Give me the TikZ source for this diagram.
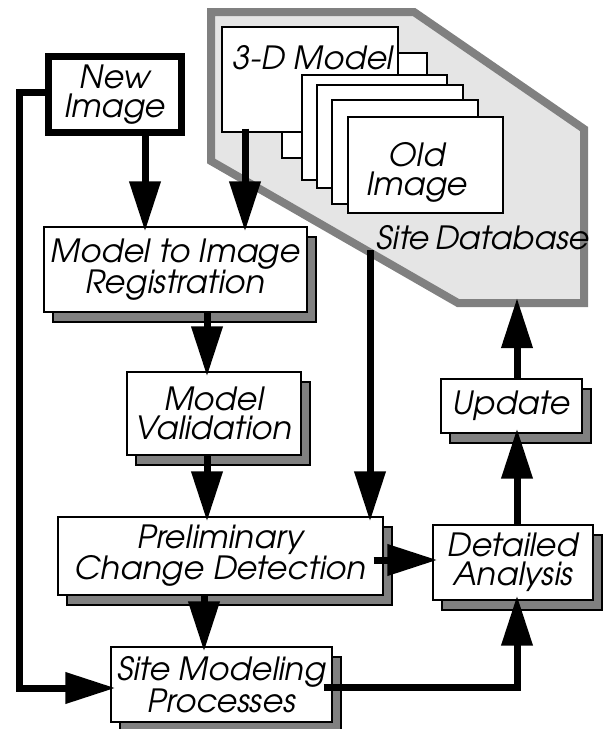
\documentclass[tikz,border=0pt]{standalone}
\usepackage{fontspec}
\newfontfamily\avantit{texgyreadventor-italic.otf}
\usepackage{tikz}
\usetikzlibrary{arrows.meta,positioning,shadows}

\begin{document}
\begin{tikzpicture}[x=1pt,y=-1pt,
	font=\avantit\fontsize{32}{29}\selectfont,
	box/.style={draw=black, line width=1.2pt, fill=white, align=center, inner sep=0pt,
		drop shadow={shadow xshift=9pt, shadow yshift=-10pt, fill=gray, draw=black, line width=1.2pt, opacity=1}},
	card/.style={draw=black, line width=1.2pt, fill=white, align=center, inner sep=0pt},
	arr/.style={-{Triangle[length=50pt,width=30pt]}, line width=7pt, shorten >=-5pt}
	]
	\useasboundingbox (0,0) rectangle (603,729);
	% site database
	\draw[draw=gray, line width=8pt, fill=gray!20] (211,12) -- (414,12) -- (584,129) -- (584,303) -- (458,303) -- (211,161) -- cycle;
	\node[card, minimum width=145pt, minimum height=105pt] (c2) at (354.5,105.5) {};
	\node[card, minimum width=176pt, minimum height=105pt] (model) at (310,79.5) {};
	\node[card, minimum width=145pt, minimum height=105pt] (c3) at (374.5,127.5) {};
	\node[card, minimum width=146pt, minimum height=103pt] (c4) at (390,136.5) {};
	\node[card, minimum width=146pt, minimum height=104pt] (c5) at (405,152) {};
	\node[card, minimum width=155pt, minimum height=96pt] (oldimg) at (425.5,165) {};
	\node (modeltxt) at (313,58) {3-D Model};
	\node[align=center] (oldtxt) at (417,172) {Old\\Image};
	\node (dbtxt) at (483,238) {Site\,Database};
	\coordinate (dbout) at (370,250);
	\coordinate (dbin) at (517,303);
	% process boxes
	\node[draw=black, line width=7pt, fill=white, align=center, inner sep=0pt, minimum width=133pt, minimum height=76pt] (newimg) at (115,94.5) {New\\Image};
	\node[box, minimum width=263pt, minimum height=85pt] (reg) at (175.5,269.5) {Model to Image\\Registration};
	\node[box, minimum width=174pt, minimum height=83pt] (valid) at (214,413.5) {Model\\Validation};
	\node[box, minimum width=325pt, minimum height=78pt] (prelim) at (220.5,556) {Preliminary\\Change Detection};
	\node[box, minimum width=160pt, minimum height=75pt] (detail) at (513,562.5) {Detailed\\Analysis};
	\node[box, minimum width=141pt, minimum height=54pt] (update) at (511.5,406) {Update};
	\node[box, minimum width=221pt, minimum height=75pt] (sitemod) at (221.5,684.5) {Site Modeling\\Processes};
	\coordinate (leftrail) at (19,0);
	% connectors
	\draw[arr] ([yshift=2.5pt]newimg.west) -- ([yshift=2.5pt]newimg.west -| leftrail) |- ([yshift=-3.5pt]sitemod.west);
	\draw[arr] ([xshift=30pt]newimg.south) -- ([xshift=-30.5pt]reg.north);
	\draw[arr] ([xshift=-65pt,yshift=4pt]model.south) -- ([xshift=69.5pt]reg.north);
	\draw[arr] ([xshift=31.5pt]reg.south) -- ([xshift=-7pt]valid.north);
	\draw[arr] ([xshift=-7pt]valid.south) -- ([xshift=-13.5pt]prelim.north);
	\draw[arr] ([xshift=-16.5pt]prelim.south) -- ([xshift=-17.5pt]sitemod.north);
	\draw[arr] (dbout) -- ([xshift=149.5pt]prelim.north);
	\draw[arr] ([xshift=-10pt,yshift=-4pt]prelim.east) -- ([yshift=2.5pt]detail.west);
	\draw[arr] ([xshift=4pt]detail.north) -- ([xshift=5.5pt]update.south);
	\draw[arr] ([xshift=5.5pt]update.north) -- (dbin);
	\draw[arr] ([xshift=-9pt,yshift=-2.5pt]sitemod.east) -| ([xshift=4pt]detail.south);
\end{tikzpicture}
\end{document}
